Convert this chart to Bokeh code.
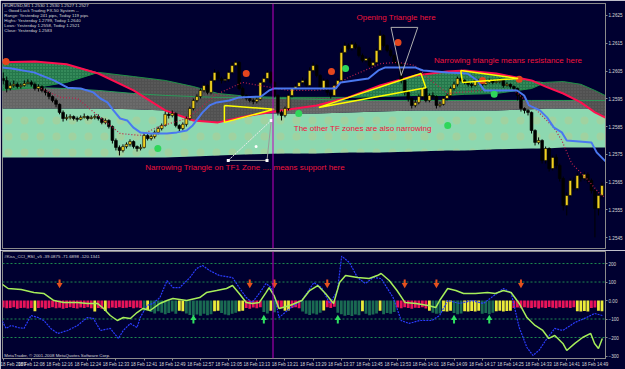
import numpy as np
from bokeh.plotting import figure
from bokeh.models import Range1d, FixedTicker, PrintfTickFormatter, Span, Label, ColumnDataSource
from bokeh.layouts import column
from bokeh.embed import file_html
from bokeh.resources import INLINE
from bokeh.core.properties import value

# ---------------- price panel data (EURUSD M1) ----------------
closes = [
    1.26016, 1.25987, 1.25998, 1.26002, 1.25994, 1.25998, 1.26005, 1.26009, 1.26002,
    1.25987, 1.25994, 1.25980, 1.25973, 1.25958, 1.25944, 1.25930,
    1.25901, 1.25879, 1.25883, 1.25886, 1.25879, 1.25876, 1.25883, 1.25886, 1.25879, 1.25883, 1.25886,
    1.25879, 1.25865, 1.25872, 1.25850, 1.25800, 1.25775, 1.25764,
    1.25778, 1.25786, 1.25796, 1.25778, 1.25771, 1.25775,
    1.25818, 1.25807, 1.25814, 1.25829, 1.25843, 1.25854,
    1.25894, 1.25890, 1.25897, 1.25854, 1.25843, 1.25858, 1.25879,
    1.25915, 1.25944, 1.25958, 1.25980, 1.25998, 1.25973,
    1.26016, 1.26045, 1.26023, 1.26016, 1.26020, 1.26045, 1.26070, 1.26081,
    1.25987, 1.25962, 1.25951, 1.25944, 1.25940, 1.25948,
    1.26009, 1.26023, 1.26045, 1.26009, 1.25962, 1.25901,
    1.25890, 1.25915, 1.25962, 1.25987, 1.25994, 1.26009,
    1.26016, 1.25998, 1.26052, 1.26070, 1.26034, 1.25987, 1.26016, 1.25973,
    1.25962, 1.25998, 1.26016, 1.26117, 1.26142, 1.26131,
    1.26146, 1.26135, 1.26106, 1.26088, 1.26095, 1.26070,
    1.26081, 1.26124, 1.26178, 1.26142, 1.26124, 1.26106, 1.26081, 1.26074,
    1.26016, 1.25973, 1.25951, 1.25926, 1.25937, 1.25958, 1.25987, 1.25944,
    1.25962, 1.25958, 1.25926, 1.25930, 1.25951, 1.25962, 1.25987, 1.26002,
    1.26023, 1.26016, 1.26009, 1.26002, 1.25998, 1.26016, 1.26009, 1.26002, 1.26009,
    1.26016, 1.26009, 1.26012, 1.26016, 1.25998, 1.26002, 1.25994, 1.25987,
    1.25962, 1.25915, 1.25908, 1.25901, 1.25836, 1.25793, 1.25800,
    1.25728, 1.25771, 1.25699, 1.25739, 1.25710, 1.25663, 1.25566, 1.25602,
    1.25656, 1.25627, 1.25674, 1.25663, 1.25678, 1.25656, 1.25620, 1.25555, 1.25602, 1.25638,
]
highs = [
    1.26045, 1.26030, 1.26009, 1.26016, 1.26009, 1.26005, 1.26016, 1.26020, 1.26016,
    1.26009, 1.26002, 1.25998, 1.25987, 1.25976, 1.25962, 1.25951,
    1.25933, 1.25908, 1.25894, 1.25894, 1.25890, 1.25886, 1.25890, 1.25897, 1.25890, 1.25890, 1.25894,
    1.25894, 1.25883, 1.25879, 1.25876, 1.25854, 1.25807, 1.25782,
    1.25786, 1.25793, 1.25804, 1.25800, 1.25782, 1.25786,
    1.25829, 1.25825, 1.25822, 1.25836, 1.25850, 1.25861,
    1.25904, 1.25901, 1.25908, 1.25901, 1.25858, 1.25865, 1.25886,
    1.25922, 1.25951, 1.25966, 1.25987, 1.26009, 1.26002,
    1.26030, 1.26056, 1.26052, 1.26030, 1.26030, 1.26052, 1.26081, 1.26088,
    1.26085, 1.25994, 1.25966, 1.25958, 1.25951, 1.25955,
    1.26016, 1.26034, 1.26052, 1.26049, 1.26012, 1.25966,
    1.25908, 1.25922, 1.25969, 1.25994, 1.26002, 1.26016,
    1.26027, 1.26023, 1.26063, 1.26081, 1.26074, 1.26038, 1.26023, 1.26020,
    1.25980, 1.26005, 1.26023, 1.26131, 1.26153, 1.26149,
    1.26157, 1.26153, 1.26142, 1.26113, 1.26102, 1.26099,
    1.26088, 1.26131, 1.26196, 1.26182, 1.26146, 1.26131, 1.26110, 1.26088,
    1.26078, 1.26020, 1.25980, 1.25955, 1.25948, 1.25966, 1.25994, 1.25990,
    1.25969, 1.25973, 1.25962, 1.25940, 1.25958, 1.25969, 1.25994, 1.26012,
    1.26030, 1.26030, 1.26020, 1.26012, 1.26009, 1.26023, 1.26020, 1.26012, 1.26016,
    1.26023, 1.26020, 1.26020, 1.26023, 1.26020, 1.26009, 1.26005, 1.25998,
    1.25990, 1.25966, 1.25919, 1.25912, 1.25904, 1.25840, 1.25811,
    1.25804, 1.25778, 1.25775, 1.25746, 1.25750, 1.25717, 1.25670, 1.25613,
    1.25663, 1.25667, 1.25685, 1.25681, 1.25688, 1.25685, 1.25663, 1.25627, 1.25616, 1.25649,
]
lows = [
    1.26002, 1.25973, 1.25980, 1.25990, 1.25987, 1.25987, 1.25994, 1.26002, 1.25994,
    1.25980, 1.25976, 1.25973, 1.25962, 1.25948, 1.25937, 1.25919,
    1.25894, 1.25868, 1.25872, 1.25876, 1.25872, 1.25868, 1.25872, 1.25879, 1.25872, 1.25876, 1.25876,
    1.25872, 1.25858, 1.25858, 1.25843, 1.25789, 1.25764, 1.25746,
    1.25757, 1.25771, 1.25778, 1.25771, 1.25760, 1.25764,
    1.25771, 1.25800, 1.25800, 1.25807, 1.25822, 1.25836,
    1.25850, 1.25879, 1.25883, 1.25847, 1.25832, 1.25836, 1.25850,
    1.25872, 1.25908, 1.25937, 1.25951, 1.25973, 1.25966,
    1.25966, 1.26009, 1.26016, 1.26005, 1.26009, 1.26012, 1.26038, 1.26063,
    1.25980, 1.25951, 1.25944, 1.25937, 1.25930, 1.25933,
    1.25944, 1.26002, 1.26016, 1.26002, 1.25955, 1.25890,
    1.25872, 1.25883, 1.25908, 1.25955, 1.25980, 1.25987,
    1.26002, 1.25990, 1.25994, 1.26045, 1.26027, 1.25980, 1.25980, 1.25962,
    1.25951, 1.25958, 1.25990, 1.26009, 1.26110, 1.26124,
    1.26124, 1.26128, 1.26099, 1.26081, 1.26081, 1.26063,
    1.26063, 1.26074, 1.26117, 1.26135, 1.26117, 1.26099, 1.26074, 1.26063,
    1.26005, 1.25962, 1.25940, 1.25915, 1.25919, 1.25930, 1.25951, 1.25937,
    1.25937, 1.25951, 1.25915, 1.25919, 1.25926, 1.25944, 1.25955, 1.25980,
    1.25994, 1.26009, 1.26002, 1.25994, 1.25990, 1.25994, 1.26002, 1.25994, 1.25998,
    1.26005, 1.26002, 1.26005, 1.26005, 1.25990, 1.25994, 1.25987, 1.25980,
    1.25944, 1.25904, 1.25897, 1.25890, 1.25825, 1.25782, 1.25786,
    1.25717, 1.25717, 1.25688, 1.25692, 1.25699, 1.25652, 1.25548, 1.25530,
    1.25595, 1.25616, 1.25620, 1.25652, 1.25656, 1.25645, 1.25609, 1.25451, 1.25530, 1.25591,
]
first_open = 1.26023
opens = [first_open] + closes[:-1]
bars = list(range(len(closes)))

price_ticks = [1.2545, 1.2555, 1.2565, 1.2575, 1.2585, 1.2595, 1.2605, 1.2615, 1.2625]

# indicator zones (bar index, price)
band_x = [-1, 9, 18, 27, 37, 46, 54, 61, 70, 79, 89, 98, 107, 117, 126, 131, 140, 150, 154, 159, 164, 168, 172]
red_line = [1.26081, 1.26084, 1.26074, 1.26041, 1.25980, 1.25908, 1.25872, 1.25865, 1.25890, 1.25908, 1.25926,
            1.25955, 1.25998, 1.26034, 1.26048, 1.26052, 1.26041, 1.26016, 1.25994, 1.25969, 1.25937, 1.25901, 1.25876]
cloud_edge = [1.25980, 1.25990, 1.26009, 1.26045, 1.26030, 1.26016, 1.25994, 1.25969, 1.25958, 1.25955, 1.25955,
              1.25955, 1.25958, 1.25962, 1.25962, 1.25966, 1.25969, 1.25987, 1.26009, 1.26012, 1.26002, 1.25980, 1.25955]
gray_top = [1.25990, 1.25990, 1.25987, 1.25980, 1.25969, 1.25962, 1.25958, 1.25955, 1.25955, 1.25951, 1.25948,
            1.25944, 1.25944, 1.25944, 1.25944, 1.25944, 1.25944, 1.25944, 1.25944, 1.25944, 1.25944, 1.25944, 1.25944]
mint_top = [1.25915, 1.25915, 1.25915, 1.25915, 1.25912, 1.25908, 1.25904, 1.25901, 1.25897, 1.25897, 1.25897,
            1.25901, 1.25904, 1.25908, 1.25908, 1.25908, 1.25908, 1.25912, 1.25915, 1.25915, 1.25915, 1.25915, 1.25915]
mint_bottom = [1.25739, 1.25739, 1.25739, 1.25739, 1.25739, 1.25739, 1.25742, 1.25746, 1.25750, 1.25753, 1.25753,
               1.25757, 1.25757, 1.25760, 1.25764, 1.25764, 1.25768, 1.25771, 1.25771, 1.25775, 1.25775, 1.25775, 1.25775]

blue_x = [-0.6, 2.3, 8.7, 14.4, 18.3, 22.0, 25.6, 27.6, 29.6, 31.3, 33.2, 35.2, 36.9, 38.9, 41.7, 46.5, 49.3,
          52.1, 53.8, 56.6, 58.6, 60.6, 64.2, 67.0, 73.2, 75.5, 76.9, 94.4, 95.8, 103.7, 106.5, 108.5, 116.9,
          119.2, 126.2, 131.8, 134.6, 136.6, 145.9, 147.9, 149.3, 152.4, 154.4, 156.3, 158.6, 160.0, 167.0,
          168.5, 171.3]
blue_y = [1.26063, 1.26059, 1.26045, 1.26016, 1.25990, 1.25987, 1.25973, 1.25951, 1.25937, 1.25908, 1.25879,
          1.25872, 1.25847, 1.25829, 1.25825, 1.25825, 1.25829, 1.25836, 1.25854, 1.25901, 1.25926, 1.25937,
          1.25944, 1.25955, 1.25958, 1.25980, 1.25987, 1.25987, 1.26009, 1.26023, 1.26052, 1.26063, 1.26063,
          1.26052, 1.26045, 1.26041, 1.26016, 1.25980, 1.25980, 1.25962, 1.25926, 1.25908, 1.25883, 1.25847,
          1.25829, 1.25800, 1.25793, 1.25757, 1.25721]

dot_x = [10.7, 16.3, 21.1, 26.8, 33.2, 38.9, 43.7, 47.3, 52.1, 55.8, 60.0, 67.9, 72.7, 81.1, 88.7, 93.2,
         98.0, 107.3, 112.1, 116.9, 121.4, 126.2, 135.5, 145.1, 151.5, 156.3, 158.6, 161.4, 165.6, 169.3, 171.3]
dot_y = [1.25987, 1.25955, 1.25951, 1.25890, 1.25825, 1.25818, 1.25847, 1.25861, 1.25879, 1.25915, 1.25962,
         1.26009, 1.25998, 1.25980, 1.25980, 1.25987, 1.26027, 1.26077, 1.26081, 1.26070, 1.26016, 1.25969,
         1.25980, 1.25980, 1.25908, 1.25847, 1.25800, 1.25717, 1.25663, 1.25609, 1.25591]

red_dot_x = [0.8, 69.0, 93.2, 112.1, 136.1, 146.5]
red_dot_y = [1.26084, 1.26041, 1.26048, 1.26153, 1.26016, 1.26020]
green_dot_x = [43.9, 83.9, 97.2, 126.2, 139.4]
green_dot_y = [1.25771, 1.25897, 1.26059, 1.25854, 1.25966]

# hand-drawn objects
yellow_tri_x = [[62.8, 62.8, 76.9, 62.8], [89.6, 118.6, 120.0, 89.6], [129.9, 130.4, 146.2, 129.9]]
yellow_tri_y = [[1.25926, 1.25865, 1.25912, 1.25926], [1.25919, 1.26041, 1.25990, 1.25919],
                [1.26052, 1.26009, 1.26023, 1.26052]]
open_tri_x = [110.1, 117.7, 113.0, 110.1]
open_tri_y = [1.26207, 1.26207, 1.26034, 1.26207]
sup_tri_x = [63.9, 74.9, 76.1]
sup_tri_y = [1.25728, 1.25728, 1.25872]
sup_mid = (71.8, 1.25778)
vline_bar = 76.6

header_lines = ["EURUSD,M1  1.2530 1.2530 1.2527 1.2527",
                "-- Good Luck Trading FX-50 System --",
                "Range: Yesterday 241 pips, Today 119 pips",
                "Highs: Yesterday 1.2799, Today 1.2640",
                "Lows:  Yesterday 1.2558, Today 1.2521",
                "Close: Yesterday 1.2583"]
header_y = [1.26286, 1.26268, 1.26250, 1.26232, 1.26214, 1.26196]

notes = ["Opening Triangle here", "Narrowing triangle means resistance here",
         "The other TF zones are also narrowing", "Narrowing Triangle on TF1 Zone .... means support here"]
note_x = [100.3, 122.3, 82.5, 40.3]
note_y = [1.26243, 1.26088, 1.25843, 1.25703]

# ---------------- indicator panel data ----------------
hist_state = ("ppppppppp" "y" "pppppppppppppppp" "y" "pp" "y" "pppppppppp"
              "t" "y" "tttttttt" "yy" "tttttttt" "yy" "ttttt" "yy" "ppppp" "tt" "y" "t"
              "pp" "yy" "ppp" "tttttt" "y" "ppp" "ttttttt" "y" "tttt" "y" "tttt"
              "ppppppppp" "y" "ttt" "yyy" "ttt" "yyyyy" "tttt" "yyyyy"
              "pppppppppppppppppp" "yyyy" "pp" "yy")
hist_vals = [-38, -42, -40, -36, -44, -41, -39, -43, -40,
             -58,
             -41, -38, -44, -40, -37, -42, -39, -45, -41, -36, -40, -43, -38, -41, -37, -42,
             -60, -40, -44, -57,
             -42, -38, -40, -36, -41, -39, -35, -42, -38, -40,
             -55, -52, -62, -70, -58, -66, -74, -68, -60, -72, -56, -58,
             -70, -78, -84, -76, -82, -72, -80, -74, -58, -56,
             -68, -76, -80, -72, -66, -58, -55,
             -40, -44, -38, -42, -36, -62, -70, -55, -64,
             -38, -42, -56, -54, -40, -36, -42,
             -60, -72, -78, -70, -76, -66, -54, -36, -40, -34,
             -66, -74, -82, -78, -84, -76, -80, -58, -72, -80, -76, -70, -56, -74, -68, -72, -62,
             -38, -42, -36, -40, -44, -39, -41, -37, -43,
             -55, -66, -72, -70, -58, -60, -56, -68, -74, -70, -58, -60, -57, -59, -56,
             -72, -68, -74, -66, -58, -56, -60, -57, -55,
             -40, -38, -42, -36, -39, -41, -37, -43, -38, -40, -35, -39, -42, -37, -41, -38, -40, -36,
             -58, -60, -57, -59, -40, -38, -56, -58]

cci_x = [-0.6, 1.4, 5.1, 8.7, 11.5, 14.4, 17.2, 21.1, 23.9, 26.8, 28.5, 30.4, 32.4, 34.1, 36.1, 38.0, 39.7,
         41.7, 44.5, 46.5, 48.2, 52.1, 55.8, 57.7, 60.6, 63.4, 65.1, 67.0, 69.0, 70.7, 72.7, 74.6, 75.5, 76.9,
         78.3, 81.4, 84.8, 87.0, 89.3, 91.5, 93.8, 95.5, 97.2, 100.6, 103.9, 106.2, 107.3, 109.6, 111.8, 114.1,
         117.2, 120.6, 122.8, 123.9, 126.2, 128.5, 130.7, 134.1, 137.5, 139.7, 142.0, 144.2, 146.5, 148.7,
         151.0, 153.2, 154.9, 156.6, 158.9, 160.0, 162.3, 164.5, 166.8, 167.9, 169.0, 170.1]
cci_y = [92, 65, 59, 43, 38, 0, -11, -11, -16, -16, -43, -81, -108, -92, -97, -65, -43, -54, -16, 0,
         11, 0, 16, 43, 54, 65, 81, 38, -11, -16, -11, 43, 70, 27, -43, -27, 0, 54, 81, 38,
         -16, 97, 135, 124, 119, 135, 146, 108, 54, -11, -16, -27, -38, 0, 65, 54, 38, 38, 43, 38,
         54, 43, -16, -92, -135, -162, -205, -189, -232, -270, -232, -200, -178, -232, -259, -205]
rsi_x = [-0.6, 0.8, 2.3, 4.2, 5.9, 7.9, 9.9, 11.5, 13.5, 15.5, 18.3, 21.1, 23.9, 25.6, 27.6, 30.4, 32.7,
         34.1, 36.1, 38.0, 38.9, 40.8, 42.5, 44.5, 46.5, 48.2, 50.1, 53.0, 54.9, 56.6, 58.6, 61.4, 65.1,
         67.0, 69.0, 70.7, 72.7, 74.6, 76.1, 77.5, 78.3, 81.4, 84.8, 88.2, 90.4, 92.7, 94.9, 96.1, 98.3,
         100.6, 102.8, 105.1, 107.3, 110.7, 113.0, 115.2, 118.3, 121.7, 123.9, 126.2, 129.6, 133.0, 136.3,
         138.6, 142.0, 144.2, 146.5, 148.7, 150.4, 152.1, 154.4, 156.6, 158.9, 162.3, 165.6, 167.9, 170.1]
rsi_y = [-97, -151, -135, -146, -151, -81, -92, -108, -151, -178, -162, -135, -92, -97, -162, -151, -205,
         -162, -124, -146, -92, -27, -16, 16, 108, 70, 70, 124, 173, 189, 162, 135, 124, 70, 16, -11, 38,
         92, 70, -16, -92, -43, 0, 97, 70, -16, 54, 240, 205, 124, 92, 124, 119, 16, -108, -124, -108,
         -108, -81, 0, -16, 0, -16, 16, 65, 43, -146, -254, -297, -270, -205, -151, -162, -119, -92, -70, -81]

sell_arrow_x = [16, 70, 77, 92, 114, 123, 147]
sell_arrow_y = [97, 97, 97, 97, 97, 97, 97]
buy_arrow_x = [54, 74, 95, 128, 138]
buy_arrow_y = [-108, -108, -108, -108, -108]

levels = [200, 100, -100, -200]
ind_ticks = [200, 100, 0, -100, -200, -300]
ind_max_label = 250.2779

time_ticks = list(range(0, 169, 8))
time_labels = ["18 Feb 2009", "18 Feb 12:08", "18 Feb 12:16", "18 Feb 12:24", "18 Feb 12:33", "18 Feb 12:41",
               "18 Feb 12:49", "18 Feb 12:57", "18 Feb 13:05", "18 Feb 13:13", "18 Feb 13:21", "18 Feb 13:29",
               "18 Feb 13:37", "18 Feb 13:45", "18 Feb 13:53", "18 Feb 14:01", "18 Feb 14:09", "18 Feb 14:17",
               "18 Feb 14:25", "18 Feb 14:33", "18 Feb 14:41", "18 Feb 14:49"]
vline_label = "2009.02.18 13:17"

# ---------------- styling ----------------
BG = "#000030"
FRAME = "#8A8A8A"
FONT = "Liberation Sans"
TXT = "#D8D8D8"


def style_right_axis(ax, size):
    ax.axis_line_color = FRAME
    ax.major_tick_line_color = FRAME
    ax.major_tick_out = 2
    ax.major_tick_in = 0
    ax.minor_tick_line_color = None
    ax.major_label_text_color = TXT
    ax.major_label_text_font = FONT
    ax.major_label_text_font_size = size
    ax.major_label_standoff = 1


xr = Range1d(-0.2, 171.0)

p1 = figure(width=625, height=250, output_backend="svg", toolbar_location=None,
            x_range=xr, y_range=Range1d(1.25411, 1.26293),
            x_axis_location=None, y_axis_location="right",
            min_border_left=2, min_border_right=18, min_border_top=3, min_border_bottom=2,
            background_fill_color=BG, border_fill_color=BG, outline_line_color=FRAME)
p1.grid.visible = False
p1.yaxis.ticker = FixedTicker(ticks=price_ticks)
p1.yaxis.formatter = PrintfTickFormatter(format="%.4f")
style_right_axis(p1.yaxis[0], "4.6px")

upper = np.maximum(red_line, cloud_edge)
p1.varea(x=band_x, y1=mint_bottom, y2=mint_top, fill_color="#8DD8B0",
         hatch_pattern="dot", hatch_color="#B9C98C", hatch_scale=16, hatch_weight=1, hatch_alpha=0.45)
p1.varea(x=band_x, y1=mint_top, y2=gray_top, fill_color="#646464",
         hatch_pattern="dot", hatch_color="#828282", hatch_scale=3, hatch_weight=1, hatch_alpha=0.6)
p1.varea(x=band_x, y1=red_line, y2=upper, fill_color="#505050",
         hatch_pattern="dot", hatch_color="#707070", hatch_scale=3, hatch_weight=1, hatch_alpha=0.6)
p1.varea(x=band_x, y1=cloud_edge, y2=upper, fill_color="#25774B",
         hatch_pattern="dot", hatch_color="#5DBB80", hatch_scale=3, hatch_weight=1, hatch_alpha=0.7)
p1.line(band_x, gray_top, line_color="#2A9A58", line_width=1)
p1.line(band_x, cloud_edge, line_color="#1E8F46", line_width=1)
p1.line(band_x, red_line, line_color="#FF1050", line_width=2)

# candles
bull = [c > o for o, c in zip(opens, closes)]
csrc = ColumnDataSource(dict(
    x=bars, o=opens, c=closes, h=highs, l=lows,
    top=[max(o, c) for o, c in zip(opens, closes)],
    bot=[min(o, c) for o, c in zip(opens, closes)],
    fill=["#F0D020" if b else "#000000" for b in bull]))
p1.segment(x0="x", y0="h", x1="x", y1="l", source=csrc, line_color="#000000", line_width=1)
p1.vbar(x="x", top="top", bottom="bot", width=0.8, source=csrc, fill_color="fill",
        line_color="#000000", line_width=0.6)

p1.line(dot_x, dot_y, line_color="#B8204A", line_width=1.2, line_dash="1 2")
p1.line(blue_x, blue_y, line_color="#4A78F0", line_width=2)

p1.scatter(red_dot_x, red_dot_y, size=7, marker="circle", fill_color="#E4461E", line_color=None)
p1.scatter(green_dot_x, green_dot_y, size=7, marker="circle", fill_color="#2FD65A", line_color=None)

p1.multi_line(yellow_tri_x, yellow_tri_y, line_color="#FFFF00", line_width=1.5)
p1.line(open_tri_x, open_tri_y, line_color="#B0B0B0", line_width=1)
p1.line([sup_tri_x[0], sup_tri_x[1], sup_tri_x[2]], [sup_tri_y[0], sup_tri_y[1], sup_tri_y[2]],
        line_color="#9A9A9A", line_width=1)
p1.line([sup_tri_x[0], sup_tri_x[2]], [sup_tri_y[0], sup_tri_y[2]],
        line_color="#E8E8E8", line_width=1, line_dash="2 1")
p1.scatter(sup_tri_x, sup_tri_y, marker="square", size=3, fill_color="#FFFFFF", line_color=None)
p1.scatter([sup_mid[0]], [sup_mid[1]], marker="circle", size=3, fill_color="#FFFFFF", line_color=None)

p1.add_layout(Span(location=vline_bar, dimension="height", line_color="#C000C0", line_width=1))

p1.text(x=[0.3] * len(header_lines), y=header_y, text=header_lines, text_color=TXT,
        text_font=value(FONT), text_font_size="4.4px", text_baseline="middle", text_align="left")
p1.text(x=note_x, y=note_y, text=notes, text_color="#F0143C", text_font=value(FONT),
        text_font_size="8px", text_baseline="middle", text_align="left")

# ---------------- indicator panel ----------------
p2 = figure(width=625, height=119, output_backend="svg", toolbar_location=None,
            x_range=xr, y_range=Range1d(-313.5, 265),
            y_axis_location="right",
            min_border_left=2, min_border_right=18, min_border_top=1, min_border_bottom=11,
            background_fill_color=BG, border_fill_color=BG, outline_line_color=FRAME)
p2.grid.visible = False
p2.yaxis.ticker = FixedTicker(ticks=ind_ticks)
p2.yaxis.major_label_overrides = {0: "0.00"}
style_right_axis(p2.yaxis[0], "4.6px")

xa = p2.xaxis[0]
xa.ticker = FixedTicker(ticks=time_ticks)
xa.major_label_overrides = dict(zip(time_ticks, time_labels))
xa.major_label_text_align = "left"
xa.axis_line_color = FRAME
xa.major_tick_line_color = FRAME
xa.major_tick_out = 2
xa.major_tick_in = 0
xa.minor_tick_line_color = None
xa.major_label_text_color = TXT
xa.major_label_text_font = FONT
xa.major_label_text_font_size = "4.5px"
xa.major_label_standoff = 1

for lv in levels:
    p2.add_layout(Span(location=lv, dimension="width", line_color="#1E8A50", line_width=1,
                       line_dash="2 2", level="underlay"))

hist_colors = {"p": "#E8145A", "t": "#1A6A52", "y": "#ECEC3A"}
hsrc = ColumnDataSource(dict(x=bars, v=hist_vals, c=[hist_colors[s] for s in hist_state]))
p2.vbar(x="x", top=0, bottom="v", width=0.8, source=hsrc, fill_color="c", line_color=None)

p2.line(rsi_x, rsi_y, line_color="#2A3CFF", line_width=1.2, line_dash="2 1")
p2.line(cci_x, cci_y, line_color="#A6EE5A", line_width=1.5)

p2.segment(x0=sell_arrow_x, y0=[v + 16 for v in sell_arrow_y], x1=sell_arrow_x,
           y1=[v - 6 for v in sell_arrow_y], line_color="#E4501E", line_width=2)
p2.scatter(sell_arrow_x, [v - 12 for v in sell_arrow_y], marker="inverted_triangle", size=6,
           fill_color="#E4501E", line_color=None)
p2.segment(x0=buy_arrow_x, y0=[v - 16 for v in buy_arrow_y], x1=buy_arrow_x,
           y1=[v + 6 for v in buy_arrow_y], line_color="#2EE060", line_width=2)
p2.scatter(buy_arrow_x, [v + 12 for v in buy_arrow_y], marker="triangle", size=6,
           fill_color="#2EE060", line_color=None)

p2.add_layout(Span(location=vline_bar, dimension="height", line_color="#C000C0", line_width=1))

p2.text(x=[0.3], y=[238], text=["#Kiss_CCI_RSI_v5 -39.0875 -71.6898 -120.1341"], text_color=TXT,
        text_font=value(FONT), text_font_size="4.4px", text_baseline="middle", text_align="left")
p2.text(x=[0.3], y=[-297], text=["MetaTrader, \u00a9 2001-2008 MetaQuotes Software Corp."], text_color=TXT,
        text_font=value(FONT), text_font_size="4.4px", text_baseline="middle", text_align="left")

p2.add_layout(Label(x=171.1, y=ind_max_label, text="%.4f" % ind_max_label, text_color=TXT,
                    text_font=FONT, text_font_size="3.9px", text_baseline="middle", text_align="left"))
p2.add_layout(Label(x=vline_bar, y=-346, text=vline_label, text_color="#FFFFFF",
                    text_font=FONT, text_font_size="4.3px", text_baseline="middle", text_align="center",
                    background_fill_color="#C020C0"))

layout = column(p1, p2, spacing=0)
open("out.html", "w").write(file_html(layout, INLINE))
